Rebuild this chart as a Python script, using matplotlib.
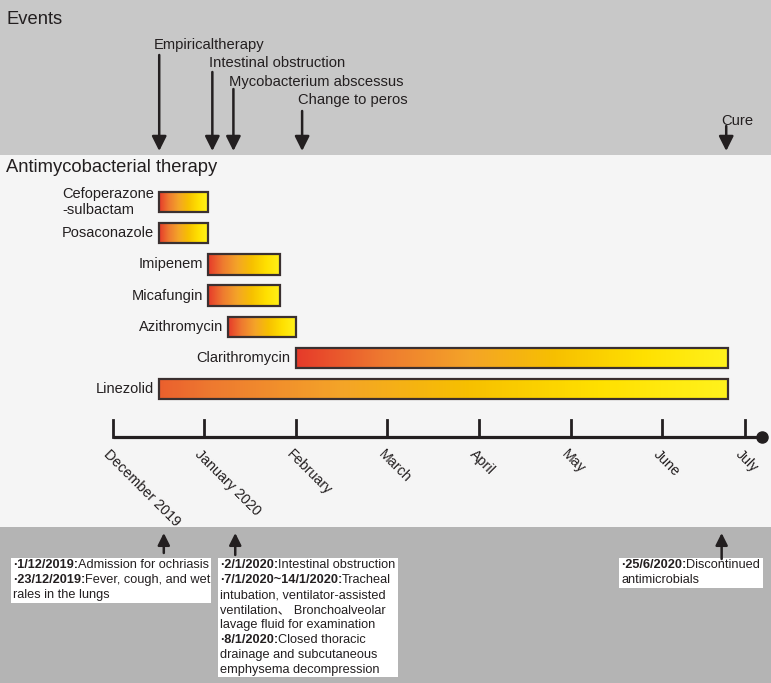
import numpy as np
import matplotlib
matplotlib.use('Agg')
import matplotlib.pyplot as plt
from matplotlib.colors import LinearSegmentedColormap
from matplotlib.patches import Rectangle

plt.rcParams['font.family'] = ['Liberation Sans', 'Noto Sans CJK SC', 'DejaVu Sans']

# timeline in month units (0 = start of December 2019)
month_labels = ['December 2019', 'January 2020', 'February', 'March', 'April', 'May', 'June', 'July']
month_pos = [0, 1, 2, 3, 4, 5, 6, 6.9]

drugs = ['Cefoperazone\n-sulbactam', 'Posaconazole', 'Imipenem', 'Micafungin',
         'Azithromycin', 'Clarithromycin', 'Linezolid']
drug_start = [0.51, 0.51, 1.04, 1.04, 1.26, 2.0, 0.51]
drug_end = [1.04, 1.04, 1.83, 1.83, 2.0, 6.72, 6.72]

events = ['Empiricaltherapy', 'Intestinal obstruction', 'Mycobacterium abscessus',
          'Change to peros', 'Cure']
event_pos = [0.51, 1.09, 1.32, 2.07, 6.70]

note_pos = [0.56, 1.34, 6.65]
notes = [
    [('·1/12/2019:', 'Admission for ochriasis'),
     ('·23/12/2019:', 'Fever, cough, and wet'),
     ('', 'rales in the lungs')],
    [('·2/1/2020:', 'Intestinal obstruction'),
     ('·7/1/2020~14/1/2020:', 'Tracheal'),
     ('', 'intubation, ventilator-assisted'),
     ('', 'ventilation、 Bronchoalveolar'),
     ('', 'lavage fluid for examination'),
     ('·8/1/2020:', 'Closed thoracic'),
     ('', 'drainage and subcutaneous'),
     ('', 'emphysema decompression')],
    [('·25/6/2020:', 'Discontinued'),
     ('', 'antimicrobials')],
]

W, H = 771, 683
fig = plt.figure(figsize=(W / 100, H / 100), dpi=100)

# background axes in pixel units
bg = fig.add_axes([0, 0, 1, 1])
bg.set_xlim(0, W)
bg.set_ylim(H, 0)
bg.axis('off')
bg.add_patch(Rectangle((0, 0), W, 155, color='#c8c8c8', lw=0))
bg.add_patch(Rectangle((0, 155), W, 372, color='#f5f5f5', lw=0))
bg.add_patch(Rectangle((0, 527), W, H - 527, color='#b4b4b4', lw=0))
bg.text(6, 20, 'Events', fontsize=13.2, va='center', color='#231f20')
bg.text(6, 167, 'Antimycobacterial therapy', fontsize=13.2, va='center', color='#231f20')

# timeline axes: x in months, y in pixels
ax = fig.add_axes([0, 0, 1, 1], zorder=2)
ax.patch.set_alpha(0)
x0, dx = 112.5, 91.6
ax.set_xlim(-x0 / dx, (W - x0) / dx)
ax.set_ylim(H, 0)
ax.axis('off')

dark = '#231f20'
cmap = LinearSegmentedColormap.from_list(
    'grad', ['#e63a2a', '#ee7a30', '#f4a428', '#f7c000', '#ffe000', '#fff21c'])
row0, row_gap, bar_h = 202, 31.2, 20.5
for i, (name, s, e) in enumerate(zip(drugs, drug_start, drug_end)):
    yc = row0 + i * row_gap
    lo = 0.12 if name == 'Linezolid' else 0.0
    g = np.linspace(lo, 1, 256).reshape(1, -1)
    im = ax.imshow(g, cmap=cmap, vmin=0, vmax=1, aspect='auto',
                   extent=(s, e, yc + bar_h / 2, yc - bar_h / 2), zorder=3)
    rect = Rectangle((s, yc - bar_h / 2), e - s, bar_h, fill=False,
                     ec='#3a3030', lw=1.6, zorder=4)
    ax.add_patch(rect)
    im.set_clip_path(rect)
    ax.annotate(name, (s, yc), xytext=(-5, 0), textcoords='offset pixels',
                ha='right', va='center', fontsize=10.5, color=dark,
                multialignment='left', linespacing=1.2)

# month axis
axis_y = 437
ax.plot([month_pos[0], (762 - x0) / dx], [axis_y, axis_y], color=dark, lw=2.3,
        solid_capstyle='butt', zorder=3)
ax.plot([(762 - x0) / dx], [axis_y], 'o', color=dark, ms=8, zorder=3)
for m, lab in zip(month_pos, month_labels):
    ax.plot([m, m], [axis_y, axis_y - 17], color=dark, lw=2.0, zorder=3)
    ax.annotate(lab, (m, axis_y), xytext=(-2, -10), textcoords='offset pixels',
                rotation=-45, rotation_mode='anchor', ha='left', va='top',
                fontsize=10.3, color=dark)

# events on top
ev_label_y = [45, 63, 82, 100, 121]
ev_arrow_top = [55, 72, 89, 111, 126]
ev_dx = [-5, -3, -4, -4, -5]
for name, p, ly, at, ox in zip(events, event_pos, ev_label_y, ev_arrow_top, ev_dx):
    ax.annotate('', xy=(p, 151), xytext=(p, at),
                arrowprops=dict(arrowstyle='-|>', color=dark, lw=1.8,
                                mutation_scale=22, shrinkA=0, shrinkB=0))
    ax.annotate(name, (p, ly), xytext=(ox, 0), textcoords='offset pixels',
                ha='left', va='center', fontsize=10.6, color=dark)

# notes at bottom
arrow_base = [553, 555, 559]
box_x = [11, 218, 619]
box_w = [200, 180, 144]
line_h = 14.86
for p, base, bx, bw, lines in zip(note_pos, arrow_base, box_x, box_w, notes):
    ax.annotate('', xy=(p, 533), xytext=(p, base),
                arrowprops=dict(arrowstyle='-|>', color=dark, lw=1.8,
                                mutation_scale=18, shrinkA=0, shrinkB=0))
    top = 558
    bh = (len(lines) - 1) * line_h + 15
    bg.add_patch(Rectangle((bx, top), bw, bh, color='white', lw=0, zorder=3))
    for j, (bold, rest) in enumerate(lines):
        ly = 565.5 + line_h * j
        t = bg.text(bx + 2, ly, bold, fontsize=9.2, fontweight='bold',
                    va='center', ha='left', color=dark, zorder=4)
        bg.annotate(rest, xy=(1, 0.5), xycoords=t, ha='left', va='center',
                    fontsize=9.2, color=dark, zorder=4)

fig.savefig('out.png', dpi=100)
